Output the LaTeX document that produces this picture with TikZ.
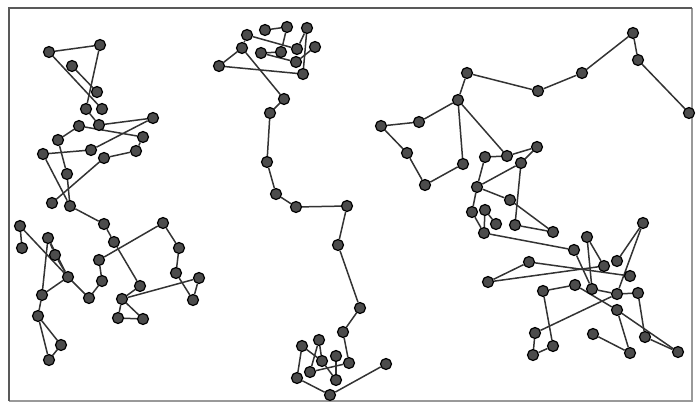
\documentclass[tikz,border=0pt]{standalone}
\usetikzlibrary{backgrounds}
\begin{document}
\begin{tikzpicture}[x=1pt,y=-1pt,
  dot/.style={circle,fill=black!70,draw=black,line width=1.2pt,minimum size=11pt,inner sep=0pt},
  link/.style={draw=black!80,line width=1.5pt},
  frame/.style={draw=black!65,line width=2.4pt},
  framelight/.style={draw=black!40,line width=1.4pt}]
\useasboundingbox (0,0) rectangle (697,405);
\coordinate (f1) at (9,401);
\coordinate (f2) at (9,8);
\coordinate (f3) at (692,8);
\coordinate (f4) at (692,401);
\draw[framelight] (f3) -- (f4) -- (f1);
\draw[frame] (f1) -- (f2) -- (f3);
% left chain
\foreach \n/\x/\y in {A/49/52,B/100/45,C/72/66,D/97/92,E/86/109,F/102/109,G/153/118,H/99/125,I/79/126,J/143/137,K/58/140,L/91/150,M/136/151,N/43/154,O/104/158,P/67/174,Q/52/203,R/70/206,S/104/224,T/114/242,U/163/223,V/20/226,W/22/248,X/48/238,Y/55/255,Z/68/277,a/99/260,b/102/281,c/179/248,d/176/273,e/199/278,f/193/300,g/140/286,h/122/299,i/118/318,j/143/319,k/42/295,l/38/316,m/89/298,n/61/345,o/49/360}
  \node[dot] (\n) at (\x,\y) {};
% middle chain
\foreach \n/\x/\y in {m1/247/35,m2/265/30,m3/287/27,m4/307/28,m5/242/48,m6/261/53,m7/281/52,m8/297/49,m9/315/47,m10/296/62,m11/219/66,m12/303/74,p1/284/99,p2/270/113,p3/267/162,p4/276/194,p5/296/207,p6/347/206,p7/338/245,p8/360/308,p9/343/332,p10/349/363,p11/319/340,p12/302/346,p13/336/356,p14/322/361,p15/310/372,p16/297/378,p17/336/380,p18/330/395,p19/386/364}
  \node[dot] (\n) at (\x,\y) {};
% right chain
\foreach \n/\x/\y in {r1/633/33,r2/638/60,r3/689/113,r4/582/73,r5/538/91,r6/467/73,r7/458/100,r8/419/122,r9/381/126,r10/407/153,r11/425/185,r12/463/164,r13/507/156,r14/485/157,r15/537/147,r16/521/163,r17/477/187,r18/510/200,s1/643/223,s2/587/237,s3/574/250,s4/553/232,s5/515/225,s6/496/224,s7/484/233,s8/529/262,s9/488/282,s10/617/261,s11/604/266,s12/630/276,s13/543/291,s14/575/285,s15/592/289,s16/617/294,s17/638/293,s18/617/310,s19/535/333,s20/553/346,s21/533/355,s22/593/334,s23/630/353,s24/645/337,s25/678/352,s26/472/212,s27/485/210}
  \node[dot] (\n) at (\x,\y) {};
\begin{scope}[on background layer]
\foreach \a/\b in {A/B,B/E,A/F,C/D,E/H,H/G,G/L,I/J,I/K,K/P,N/L,J/M,M/O,O/Q,N/R,P/R,R/S,S/T,a/U,T/g,U/c,c/d,d/f,e/f,h/e,a/b,b/m,m/Z,X/Z,Y/Z,V/Z,X/Y,X/k,V/W,Z/k,k/l,l/n,l/o,n/o,g/h,h/i,i/j,h/j,
  m11/m12,m11/m5,m5/p1,m1/m8,m1/m5,m2/m3,m3/m7,m4/m12,m4/m8,m6/m10,m10/m9,m6/m7,
  p1/p2,p2/p3,p3/p4,p4/p5,p5/p6,p6/p7,p7/p8,p8/p9,p9/p10,p10/p15,p15/p11,p11/p14,p12/p14,p12/p16,p16/p18,p18/p19,p13/p17,p14/p17,
  r3/r2,r2/r1,r1/r4,r4/r5,r5/r6,r6/r7,r7/r8,r8/r9,r9/r10,r10/r11,r11/r12,r12/r7,r7/r13,r13/r14,r13/r15,r15/r16,r16/r17,r17/r14,r17/r18,
  r17/s26,s26/s7,s27/s6,s27/s7,r16/s5,r18/s4,s5/s4,s7/s3,s3/s15,s2/s11,s2/s15,s8/s12,s9/s8,s9/s11,s10/s1,s1/s16,s13/s14,s13/s20,s20/s21,s21/s19,s19/s16,s14/s18,s18/s25,s18/s23,s15/s16,s16/s17,s17/s24,s24/s25,s22/s23}
  \draw[link] (\a) -- (\b);
\end{scope}
\end{tikzpicture}
\end{document}
